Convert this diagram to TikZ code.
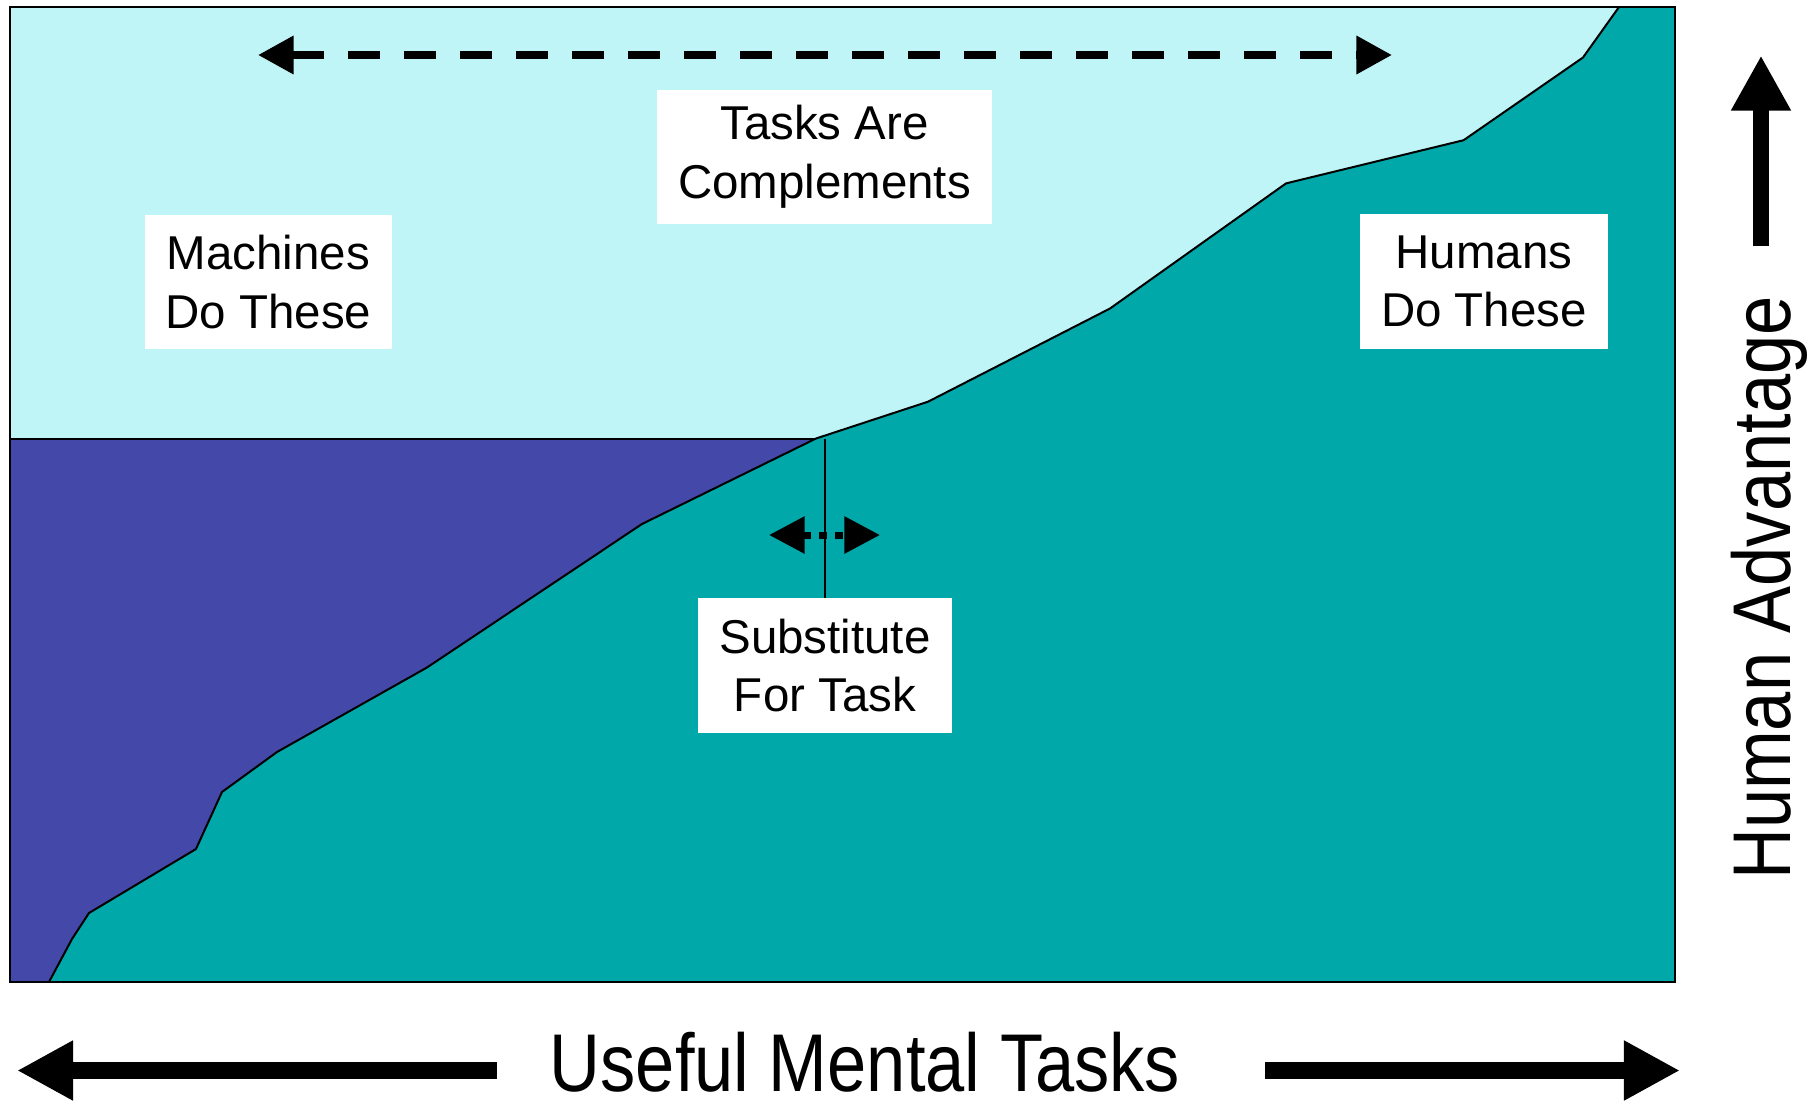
\documentclass[tikz,border=0pt]{standalone}
\usepackage{fontspec}
\setmainfont{Liberation Sans}
\newfontfamily\narrowfont[FakeStretch=0.86]{Liberation Sans}
\usetikzlibrary{arrows.meta}
\definecolor{skycyan}{RGB}{192,245,248}
\definecolor{machineblue}{RGB}{68,72,168}
\definecolor{humanteal}{RGB}{0,168,170}
\tikzset{
    taskchart/.style={
        x=0.01cm, y=-0.01cm,
        % Riquadri bianchi con le etichette
        labelbox/.style={fill=white, align=center,
                         inner xsep=0.21cm, minimum height=1.34cm,
                         font=\fontsize{13.5}{16.7}\selectfont},
        % Etichette degli assi (strette)
        axislabel/.style={inner sep=0pt,
                          font=\narrowfont\fontsize{23.3}{28}\selectfont},
        outline/.style={line width=0.02cm},
        % Frecce
        bigarrow/.style={line width=0.17cm,
                         -{Triangle[length=0.56cm, width=0.56cm]}},
        spanarrow/.style={line width=0.08cm,
                          dash pattern=on 0.32cm off 0.24cm,
                          {Triangle[length=0.355cm, width=0.365cm]}-{Triangle[length=0.355cm, width=0.365cm]}},
        shiftarrow/.style={line width=0.07cm,
                           dash pattern=on 0.08cm off 0.083cm,
                           {Triangle[length=0.355cm, width=0.355cm]}-{Triangle[length=0.355cm, width=0.355cm]}}
    }
}

\begin{document}
\begin{tikzpicture}[taskchart]
  \useasboundingbox (0,0) rectangle (1820,1102);

  % Aree
  \fill[skycyan] (10,7) rectangle (1675,982);
  \fill[machineblue] (10,438.5) -- (816,438.5) -- (642,524) -- (427,667.5)
    -- (277,752) -- (222,792) -- (196,849) -- (89,913) -- (72,939)
    -- (49,982) -- (10,982) -- cycle;
  \fill[humanteal] (49,982) -- (72,939) -- (89,913) -- (196,849) -- (222,792)
    -- (277,752) -- (427,667.5) -- (642,524) -- (816,438.5) -- (928,401.7)
    -- (1110,308.5) -- (1286,183.4) -- (1463.6,140.2) -- (1583,57.5)
    -- (1619,7) -- (1675,7) -- (1675,982) -- cycle;

  % Linee
  \draw[outline] (10,438.5) -- (816,438.5);
  \draw[outline] (49,982) -- (72,939) -- (89,913) -- (196,849) -- (222,792)
    -- (277,752) -- (427,667.5) -- (642,524) -- (816,438.5) -- (928,401.7)
    -- (1110,308.5) -- (1286,183.4) -- (1463.6,140.2) -- (1583,57.5)
    -- (1619,7);
  \draw[line width=0.025cm] (10,7) rectangle (1675,982);

  % Nodi
  \node[labelbox] (complements) at (824.5,157) {Tasks Are\\Complements};
  \node[labelbox] (machines) at (268.5,282) {Machines\\Do These};
  \node[labelbox] (humans) at (1484,281.5) {Humans\\Do These};
  \node[labelbox] (substitute) at (825,665.5) {Substitute\\For Task};
  \node[axislabel] (tasksaxis) at (865,1062) {Useful Mental Tasks};
  \node[axislabel, rotate=90, anchor=base] (advantage) at (1790,588) {Human Advantage};

  \coordinate (kink) at (825,439);
  \coordinate (spanleft) at (258,55);
  \coordinate (spanright) at (1392,55);
  \coordinate (shiftleft) at (769,535);
  \coordinate (shiftright) at (880,535);
  \coordinate (tasksleftstart) at (497,1070.5);
  \coordinate (tasksleft) at (17,1070.5);
  \coordinate (tasksrightstart) at (1265,1070.5);
  \coordinate (tasksright) at (1680,1070.5);
  \coordinate (advantagestart) at (1761,246);
  \coordinate (advantagetop) at (1761,55.5);

  \draw[line width=0.017cm] (kink) -- (substitute.north);
  \draw[spanarrow] (spanleft) -- (spanright);
  \draw[shiftarrow] (shiftleft) -- (shiftright);
  \draw[bigarrow] (tasksleftstart) -- (tasksleft);
  \draw[bigarrow] (tasksrightstart) -- (tasksright);
  \draw[line width=0.163cm, -{Triangle[length=0.55cm, width=0.56cm]}] (advantagestart) -- (advantagetop);
\end{tikzpicture}
\end{document}
